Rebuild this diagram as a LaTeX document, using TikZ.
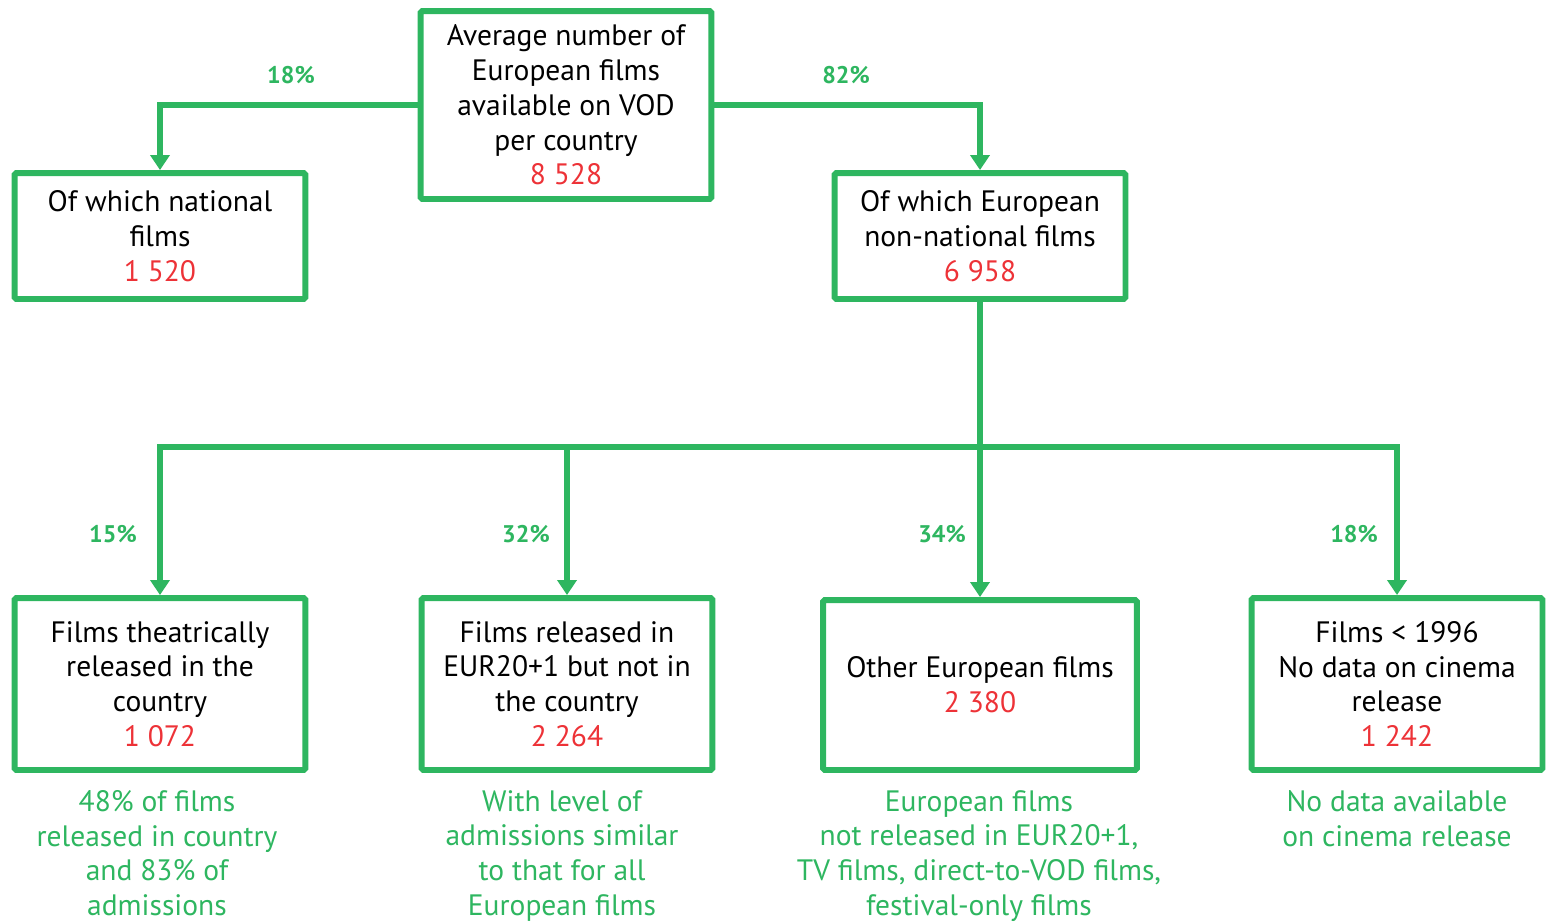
\documentclass[tikz,border=0pt]{standalone}
\usepackage{fontspec}
\setmainfont{PT Sans}
\usepackage{tikz}
\usetikzlibrary{arrows.meta,positioning}
\definecolor{vodgreen}{RGB}{46,182,96}
\definecolor{vodred}{RGB}{237,50,55}

\begin{document}
\begin{tikzpicture}[x=0.02cm, y=-0.02cm,
  box/.style = {draw = vodgreen, line width = 3.4pt, rounded corners = 1pt, align = center, minimum width = 5.82cm, font = \fontsize{16.8}{19.8}\selectfont, inner sep = 2pt},
  share/.style = {text = vodgreen, font = \fontsize{13.7}{15}\selectfont\bfseries},
  note/.style = {text = vodgreen, align = center, font = \fontsize{16.8}{19.8}\selectfont},
  link/.style = {draw = vodgreen, line width = 3.4pt},
  arr/.style = {link, -{Triangle[length = 0.3cm, width = 0.38cm]}}]
\path[use as bounding box] (0,0) rectangle (1551,921);
% boxes
\node[box, minimum height = 3.76cm] (avg) at (566,105) {Average number of\\European films\\available on VOD\\per country\\\textcolor{vodred}{8 528}};
\node[box, minimum height = 2.52cm] (nat) at (160,236) {Of which national\\films\\\textcolor{vodred}{1 520}};
\node[box, minimum height = 2.52cm] (eur) at (980,236) {Of which European\\non-national films\\\textcolor{vodred}{6 958}};
\node[box, minimum height = 3.44cm] (thea) at (160,684) {Films theatrically\\released in the\\country\\\textcolor{vodred}{1 072}};
\node[box, minimum height = 3.44cm] (rel) at (567,684) {Films released in\\EUR20+1 but not in\\the country\\\textcolor{vodred}{2 264}};
\node[box, minimum height = 3.40cm, minimum width = 6.28cm] (oth) at (980,685) {Other European films\\\textcolor{vodred}{2 380}};
\node[box, minimum height = 3.44cm] (old) at (1397,684) {Films < 1996\\No data on cinema\\release\\\textcolor{vodred}{1 242}};
% shares
\node[share] (s18) at (291,75) {18\%};
\node[share] (s82) at (846,75) {82\%};
\node[share] (s15) at (113,534) {15\%};
\node[share] (s32) at (526,534) {32\%};
\node[share] (s34) at (942,534) {34\%};
\node[share] (s18b) at (1354,534) {18\%};
% notes
\node[note, anchor = north] (n1) at (157,784) {48\% of films\\released in country\\and 83\% of\\admissions};
\node[note, anchor = north] (n2) at (562,784) {With level of\\admissions similar\\to that for all\\European films};
\node[note, anchor = north] (n3) at (979,784) {European films\\not released in EUR20+1,\\TV films, direct-to-VOD films,\\festival-only films};
\node[note, anchor = north] (n4) at (1397,784) {No data available\\on cinema release};
% connectors
\coordinate (fork) at (980,447);
\draw[arr] (avg.west) -| (nat.north);
\draw[arr] (avg.east) -| (eur.north);
\draw[link] (eur.south) -- (fork);
\draw[arr] (fork) -| (thea.north);
\draw[arr] (fork) -| (rel.north);
\draw[arr] (fork) -- (oth.north);
\draw[arr] (fork) -| (old.north);
\end{tikzpicture}
\end{document}
